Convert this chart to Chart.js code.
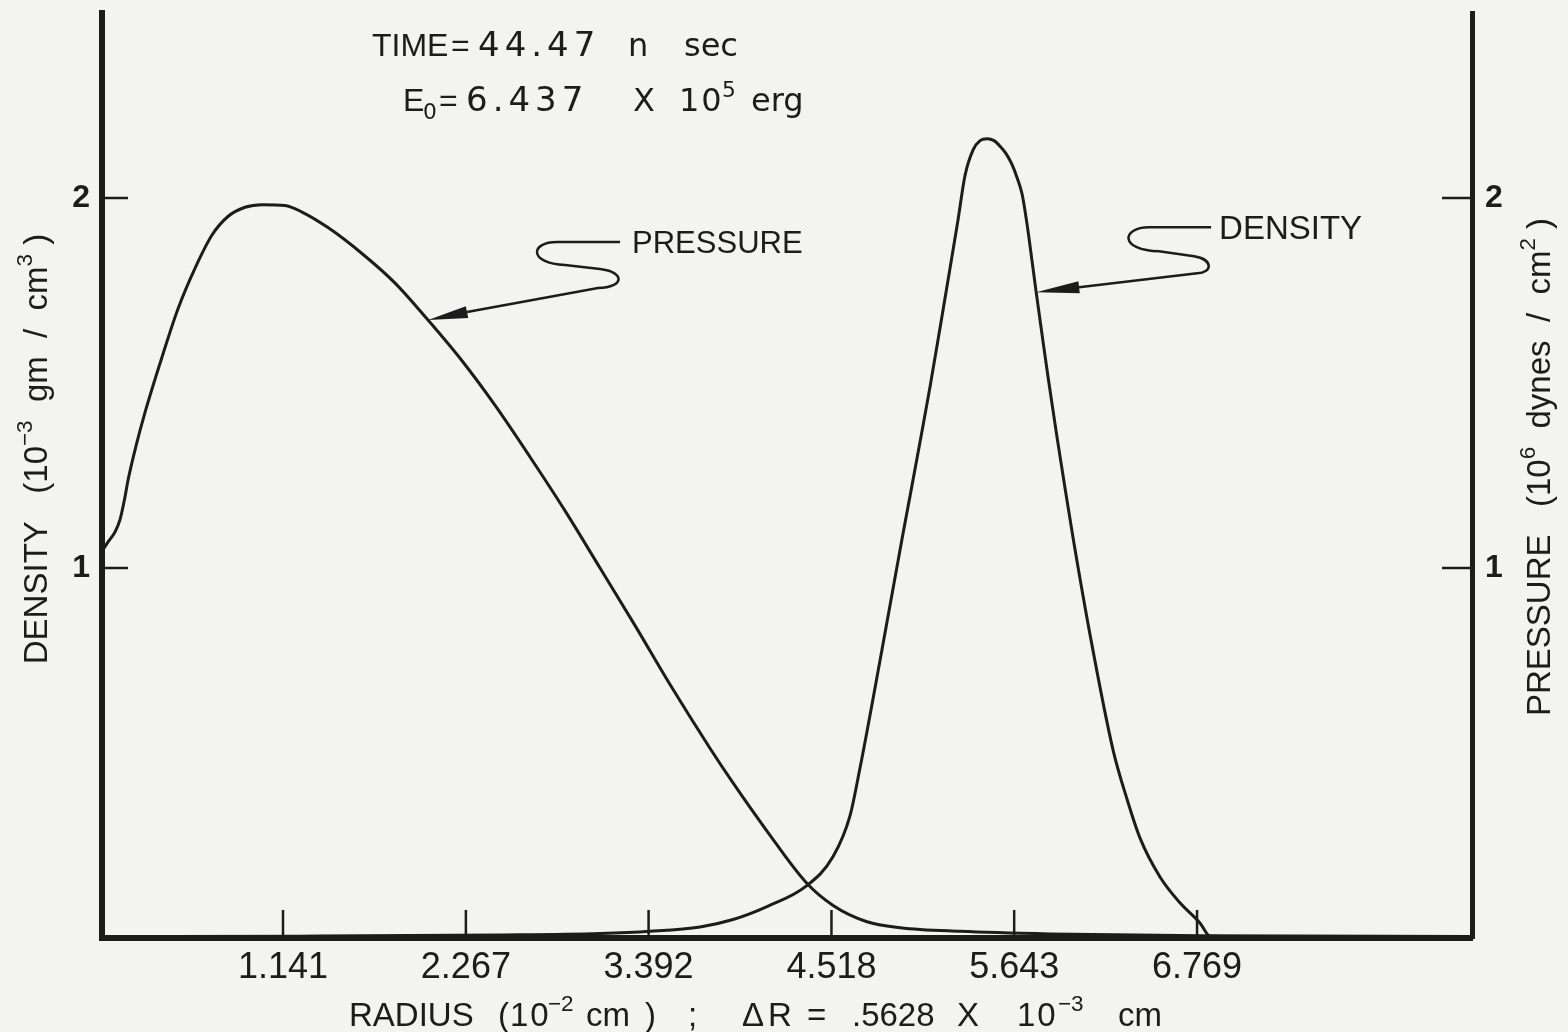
<!DOCTYPE html>
<html><head><meta charset="utf-8">
<script src="https://cdn.jsdelivr.net/npm/chart.js@4.4.0/dist/chart.umd.min.js"></script>
<style>html,body{margin:0;padding:0;background:#f3f3f1;}canvas{display:block;}</style>
</head><body>
<canvas id="c" width="1568" height="1032" style="width:1568px;height:1032px"></canvas>
<script>
// ---- data (radius in 10^-2 cm; density 10^-3 gm/cm^3; pressure 10^6 dynes/cm^2)
const pressureR = [0.0265, 0.063, 0.106, 0.137, 0.168, 0.187, 0.236, 0.291, 0.396, 0.494, 0.599, 0.704, 0.802, 0.907, 1.012, 1.153, 1.258, 1.418, 1.627, 1.831, 2.034, 2.243, 2.446, 2.662, 2.877, 3.093, 3.308, 3.524, 3.770, 3.912, 4.121, 4.362, 4.528, 4.737, 4.941, 5.310, 5.864, 6.788, 8.462];
const pressureVal = [1.045, 1.07, 1.097, 1.13, 1.192, 1.238, 1.33, 1.42, 1.57, 1.70, 1.81, 1.90, 1.95, 1.975, 1.982, 1.98, 1.962, 1.92, 1.85, 1.77, 1.67, 1.56, 1.44, 1.30, 1.155, 1.00, 0.845, 0.685, 0.513, 0.419, 0.289, 0.15, 0.088, 0.044, 0.028, 0.018, 0.011, 0.006, 0.004];
const densityR = [0.0265, 1.246, 2.477, 3.094, 3.401, 3.709, 3.912, 4.121, 4.362, 4.528, 4.632, 4.694, 4.817, 4.953, 5.002, 5.063, 5.125, 5.187, 5.248, 5.297, 5.340, 5.390, 5.433, 5.476, 5.519, 5.556, 5.593, 5.630, 5.661, 5.692, 5.722, 5.753, 5.778, 5.815, 5.852, 5.907, 5.956, 6.005, 6.110, 6.252, 6.338, 6.418, 6.541, 6.664, 6.788, 6.849, 8.462];
const densityVal = [0.004, 0.005, 0.008, 0.012, 0.018, 0.03, 0.05, 0.085, 0.14, 0.22, 0.33, 0.46, 0.75, 1.08, 1.195, 1.34, 1.49, 1.65, 1.81, 1.94, 2.06, 2.13, 2.155, 2.16, 2.155, 2.14, 2.12, 2.09, 2.055, 2.01, 1.93, 1.83, 1.747, 1.63, 1.515, 1.353, 1.216, 1.083, 0.82, 0.508, 0.375, 0.27, 0.165, 0.095, 0.04, 0.005, 0.0];
const xTickValues = [1.141, 2.267, 3.392, 4.518, 5.643, 6.769];
const xTickLabels = ['1.141', '2.267', '3.392', '4.518', '5.643', '6.769'];
const yTickValues = [1, 2];
const yTickLabels = ['1', '2'];
const xRange = [0.0265, 8.462];
const yRange = [0, 2.5];
// annotation anchors (data coords of arrow tips)
const pressureArrowTip = [2.034, 1.67];
const densityArrowTip = [5.778, 1.745];

const INK = '#1c1c1c';
const FONT = "'Liberation Sans', Arial, sans-serif";
const FONT2 = "'DejaVu Sans', 'Liberation Sans', sans-serif";

function drawSegs(ctx, segs, baseY, size, fam) {
  segs.forEach(s => {
    const base = s.sz || size;
    const fs = s.k ? base * 0.68 : base;
    ctx.font = fs + 'px ' + (s.f || fam || FONT);
    ctx.letterSpacing = (s.ls || 0) + 'px';
    const dy = s.k === 'sup' ? -size * 0.45 : s.k === 'sub' ? size * 0.25 : 0;
    ctx.fillText(s.t, s.x, baseY + dy);
  });
  ctx.letterSpacing = '0px';
}
function drawRich(ctx, segs, x, y, size) {
  let total = 0;
  const parts = segs.map(s => {
    const fs = s.k ? size * 0.68 : size;
    ctx.font = fs + 'px ' + FONT;
    const w = ctx.measureText(s.t).width;
    total += w;
    return {t: s.t, k: s.k, fs, w};
  });
  let cx = x - total / 2;
  parts.forEach(p => {
    ctx.font = p.fs + 'px ' + FONT;
    const dy = p.k === 'sup' ? -size * 0.45 : p.k === 'sub' ? size * 0.25 : 0;
    ctx.fillText(p.t, cx, y + dy);
    cx += p.w;
  });
}

const bgPlugin = {
  id: 'bg',
  beforeDraw(chart) {
    const c = chart.ctx;
    c.save(); c.fillStyle = '#f3f3f1'; c.fillRect(0, 0, chart.width, chart.height); c.restore();
  }
};

const tickPlugin = {
  id: 'inwardTicks',
  afterDatasetsDraw(chart) {
    const {ctx, chartArea, scales} = chart;
    ctx.save();
    ctx.strokeStyle = INK; ctx.lineWidth = 2.5; ctx.lineCap = 'butt';
    xTickValues.forEach(v => {
      const px = scales.x.getPixelForValue(v);
      ctx.beginPath(); ctx.moveTo(px, chartArea.bottom); ctx.lineTo(px, chartArea.bottom - 28); ctx.stroke();
    });
    yTickValues.forEach(v => {
      const py = scales.y.getPixelForValue(v);
      ctx.beginPath(); ctx.moveTo(chartArea.left, py); ctx.lineTo(chartArea.left + 26, py); ctx.stroke();
      const py2 = scales.y2.getPixelForValue(v);
      ctx.beginPath(); ctx.moveTo(chartArea.right, py2); ctx.lineTo(chartArea.right - 30, py2); ctx.stroke();
    });
    ctx.restore();
  }
};

function leader(ctx, tx, ty, path, head) {
  ctx.beginPath();
  path.forEach(p => {
    if (p[0] === 'M') ctx.moveTo(tx + p[1], ty + p[2]);
    else if (p[0] === 'L') ctx.lineTo(tx + p[1], ty + p[2]);
    else ctx.bezierCurveTo(tx + p[1], ty + p[2], tx + p[3], ty + p[4], tx + p[5], ty + p[6]);
  });
  ctx.stroke();
  ctx.beginPath();
  ctx.moveTo(tx, ty);
  ctx.lineTo(tx + head[0], ty + head[1]);
  ctx.lineTo(tx + head[2], ty + head[3]);
  ctx.closePath();
  ctx.fill();
}

const textPlugin = {
  id: 'texts',
  afterDraw(chart) {
    const {ctx, scales} = chart;
    ctx.save();
    ctx.fillStyle = INK; ctx.strokeStyle = INK;
    ctx.textBaseline = 'alphabetic'; ctx.textAlign = 'left';
    // header
    drawSegs(ctx, [
      {t: 'TIME', x: 372, f: FONT}, {t: '=', x: 451, f: FONT}, {t: '44.47', x: 478, ls: 5, sz: 34},
      {t: 'n', x: 628}, {t: 'sec', x: 684}
    ], 56, 32, FONT2);
    drawSegs(ctx, [
      {t: 'E', x: 403, f: FONT}, {t: '0', x: 423, k: 'sub'}, {t: '=', x: 439, f: FONT},
      {t: '6.437', x: 466, ls: 5, sz: 34}, {t: 'X', x: 633}, {t: '10', x: 679, ls: 2},
      {t: '5', x: 722, k: 'sup'}, {t: 'erg', x: 751}
    ], 111, 32, FONT2);
    // x title
    drawSegs(ctx, [
      {t: 'RADIUS', x: 349}, {t: '(', x: 498}, {t: '10', x: 510, ls: 2}, {t: '\u22122', x: 548, k: 'sup'},
      {t: 'cm', x: 586}, {t: ')', x: 645}, {t: ';', x: 688},
      {t: '\u0394', x: 742}, {t: 'R', x: 768}, {t: '=', x: 807}, {t: '.5628', x: 852},
      {t: 'X', x: 957}, {t: '10', x: 1017, ls: 2}, {t: '\u22123', x: 1058, k: 'sup'}, {t: 'cm', x: 1118}
    ], 1026, 33);
    // left title (rotated)
    ctx.save(); ctx.translate(47, 449); ctx.rotate(-Math.PI / 2);
    drawRich(ctx, [
      {t: 'DENSITY   (10'}, {t: '\u22123', k: 'sup'}, {t: '  gm  /  cm'}, {t: '3', k: 'sup'}, {t: ' )'}
    ], 0, 0, 33);
    ctx.restore();
    // right title (rotated)
    ctx.save(); ctx.translate(1550, 467); ctx.rotate(-Math.PI / 2);
    drawRich(ctx, [
      {t: 'PRESSURE   (10'}, {t: '6', k: 'sup'}, {t: '  dynes  /  cm'}, {t: '2', k: 'sup'}, {t: ' )'}
    ], 0, 0, 33);
    ctx.restore();
    // annotations
    ctx.lineWidth = 2.5;
    const ptx = scales.x.getPixelForValue(pressureArrowTip[0]);
    const pty = scales.y.getPixelForValue(pressureArrowTip[1]);
    leader(ctx, ptx, pty, [
      ['M', 192, -78], ['L', 129, -78], ['C', 102, -78, 100, -57, 137, -55],
      ['L', 172, -51], ['C', 197, -48, 197, -33, 170, -32], ['L', 39, -8]
    ], [40.2, -2.1, 37.8, -13.9]);
    ctx.font = '31px ' + FONT;
    ctx.fillText('PRESSURE', ptx + 204, pty - 67);
    const dtx = scales.x.getPixelForValue(densityArrowTip[0]);
    const dty = scales.y.getPixelForValue(densityArrowTip[1]);
    leader(ctx, dtx, dty, [
      ['M', 175, -65], ['L', 113, -65], ['C', 85, -65, 83, -42, 123, -41],
      ['L', 158, -36], ['C', 177, -33, 177, -20, 161, -19], ['L', 43, -5]
    ], [43.7, 1, 42.3, -11]);
    ctx.font = '33px ' + FONT;
    ctx.fillText('DENSITY', dtx + 183, dty - 53);
    ctx.restore();
  }
};

function noPad(s) { s.paddingTop = 0; s.paddingBottom = 0; }
new Chart(document.getElementById('c').getContext('2d'), {
  type: 'line',
  data: {
    datasets: [
      {label: 'Pressure', data: pressureR.map((x, i) => ({x, y: pressureVal[i]})), yAxisID: 'y',
       borderColor: INK, borderWidth: 3, pointRadius: 0, cubicInterpolationMode: 'monotone', fill: false},
      {label: 'Density', data: densityR.map((x, i) => ({x, y: densityVal[i]})), yAxisID: 'y',
       borderColor: INK, borderWidth: 3, pointRadius: 0, cubicInterpolationMode: 'monotone', fill: false}
    ]
  },
  options: {
    responsive: false, animation: false, devicePixelRatio: 1,
    layout: {padding: {top: 13, left: 0, right: 0, bottom: 0}},
    plugins: {legend: {display: false}, tooltip: {enabled: false}},
    scales: {
      x: {
        type: 'linear', min: xRange[0], max: xRange[1],
        afterFit(s) { s.height = 94; s.paddingLeft = 0; s.paddingRight = 0; },
        afterBuildTicks(s) { s.ticks = xTickValues.map(v => ({value: v})); },
        ticks: {callback: v => xTickLabels[xTickValues.indexOf(v)], font: {family: FONT, size: 36}, color: INK,
                padding: 8, maxRotation: 0, autoSkip: false},
        grid: {display: false, drawTicks: false},
        border: {display: true, color: INK, width: 6}
      },
      y: {
        position: 'left', min: yRange[0], max: yRange[1],
        afterFit(s) { s.width = 102; noPad(s); },
        afterBuildTicks(s) { s.ticks = yTickValues.map(v => ({value: v})); },
        ticks: {callback: v => yTickLabels[yTickValues.indexOf(v)], font: {family: FONT, size: 32, weight: 'bold'}, color: INK, padding: 12},
        grid: {display: false, drawTicks: false},
        border: {display: true, color: INK, width: 6}
      },
      y2: {
        position: 'right', min: yRange[0], max: yRange[1],
        afterFit(s) { s.width = 96; noPad(s); },
        afterBuildTicks(s) { s.ticks = yTickValues.map(v => ({value: v})); },
        ticks: {callback: v => yTickLabels[yTickValues.indexOf(v)], font: {family: FONT, size: 32, weight: 'bold'}, color: INK, padding: 13},
        grid: {display: false, drawTicks: false},
        border: {display: true, color: INK, width: 5}
      }
    }
  },
  plugins: [bgPlugin, tickPlugin, textPlugin]
});
</script>
</body></html>
